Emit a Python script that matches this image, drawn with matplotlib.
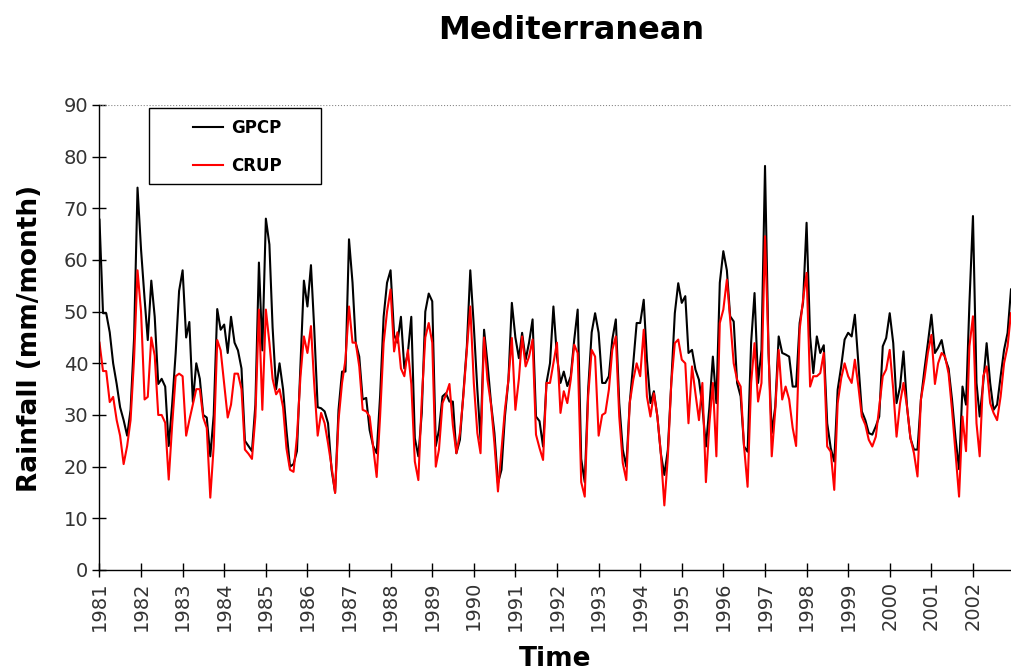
import numpy as np
import pandas as pd
import matplotlib
matplotlib.use('Agg')
import matplotlib.pyplot as plt
import matplotlib.dates as mdates
from matplotlib.patches import Rectangle

# monthly mean rainfall (mm/month), Jan 1981 - Dec 2002, one row per year
gpcp = [
    67.8, 49.7, 49.7, 46, 40, 36, 31.5, 29, 26, 31, 45, 74,
    62, 52.5, 44.5, 56, 49, 36, 37, 35.5, 24, 32, 42, 54,
    58, 45, 48, 32.5, 40, 37, 30, 29.5, 22, 30, 50.5, 46.5,
    47.5, 42, 49, 44, 42.5, 39, 25, 24, 23, 32, 59.5, 42.5,
    68, 63, 47, 35, 40, 35, 27, 20, 20.5, 23, 40, 56,
    51, 59, 47, 31.5, 31.3, 30.7, 28.4, 19.4, 15, 31, 38.4, 38.4,
    64, 55.6, 44, 41.3, 33, 33.3, 27.1, 24, 22.6, 33.6, 49, 55.6,
    58, 45.5, 44, 49, 39, 42, 49, 25.5, 22, 30.4, 50, 53.5,
    52, 24, 27.1, 33.6, 34.2, 32.6, 32.6, 22.6, 25.2, 34.2, 43.3, 58,
    47.2, 34.9, 25.2, 46.5, 40, 32.3, 26.5, 16.8, 19.4, 29.7, 36.8, 51.7,
    45, 41, 45.9, 40.7, 44, 48.5, 29.7, 28.8, 23.9, 36.2, 40, 51,
    41.3, 36.2, 38.4, 35.6, 37.5, 44.6, 50.4, 21.5, 17, 34.9, 46, 49.7,
    45.9, 36.2, 36.2, 37.5, 44.6, 48.5, 32.3, 23.3, 20, 32.3, 40, 47.8,
    47.8, 52.3, 40.7, 32.3, 34.6, 29.7, 22.6, 18.4, 23.3, 36.2, 49.7, 55.5,
    51.7, 53, 42, 42.6, 38.8, 36.8, 31.6, 23.9, 31.6, 41.3, 32.3, 55.6,
    61.7, 58, 49.1, 48.1, 36.2, 33.6, 23.9, 22.9, 44, 53.6, 36.2, 42.6,
    78.2, 42, 26.5, 31.6, 45.2, 42, 41.7, 41.3, 35.5, 35.5, 47.8, 51.7,
    67.2, 45.2, 38.1, 45.2, 42, 43.5, 28.4, 23.6, 21, 34.9, 39.4, 44.6,
    45.9, 45.2, 49.4, 40, 30.7, 29, 26.5, 26.2, 27.8, 29.7, 43.3, 44.9,
    49.7, 43.9, 32.3, 35.5, 42.3, 31.6, 25.5, 23.3, 23.3, 33, 38.8, 43.9,
    49.4, 42, 43, 44.5, 41, 39, 33, 25.5, 19.5, 35.5, 32, 51.7,
    68.5, 36.2, 29.7, 36.2, 43.9, 36.2, 31, 32, 37.5, 42.6, 45.9, 54.3,
]

crup = [
    44, 38.5, 38.5, 32.5, 33.5, 29, 26, 20.5, 24, 29, 41, 58,
    50, 33, 33.5, 45, 41.5, 30, 30, 28.5, 17.5, 28, 37.5, 38,
    37.5, 26, 29, 32, 35, 35, 29.5, 27.5, 14, 24, 44.5, 42.5,
    36, 29.5, 32, 38, 38, 35, 23.3, 22.5, 21.5, 29.7, 50.4, 31,
    50.4, 44, 37, 34, 35, 31.5, 23.5, 19.4, 19, 25.8, 37.5, 45.2,
    42, 47.2, 36.2, 26, 30.4, 28.4, 24.5, 20, 14.9, 29, 36.2, 40.7,
    51, 44, 44, 39.4, 31, 30.7, 29.7, 23.9, 18, 29.7, 43.9, 50,
    54.3, 42.3, 46, 39, 37.5, 42.6, 36, 21, 17.4, 33, 45, 47.8,
    44, 20, 23.3, 32.3, 33.9, 36, 28, 22.6, 26.5, 33.6, 42.6, 51,
    36.2, 26.5, 22.6, 45, 36.8, 32, 24.5, 15.2, 23.3, 31, 36.8, 44.9,
    31, 37, 45.2, 39.4, 41.3, 44.6, 26.2, 23.6, 21.3, 36.2, 36.2, 40,
    44, 30.4, 34.6, 32.3, 36.8, 43.6, 42, 17, 14.2, 33.6, 42.6, 41.3,
    26, 30, 30.4, 34.9, 42.6, 45.2, 29.7, 20.7, 17.4, 32.3, 36.8, 40,
    37.5, 46.5, 33.6, 29.7, 34.2, 29.7, 22.6, 12.5, 22, 36.2, 43.9, 44.6,
    40.7, 40, 28.4, 39.4, 34.2, 29, 36.2, 17, 28.4, 36.2, 22, 47.8,
    50.4, 56.2, 48.5, 40, 36.8, 35.5, 23.9, 16.1, 36.2, 43.9, 32.6, 36.2,
    64.6, 42.6, 22, 31, 42.6, 33, 35.5, 33, 27.5, 24, 46.5, 52.3,
    57.5, 35.5, 37.5, 37.5, 38.1, 42, 23.9, 22.9, 15.5, 32.3, 37.1, 40,
    37.5, 36.2, 40.7, 35.5, 29.7, 28.1, 25.2, 23.9, 25.8, 31.6, 37.5, 38.8,
    42.6, 34.9, 25.8, 32.3, 36.2, 31.6, 25.5, 22.6, 18.1, 33, 37.1, 42,
    45.5, 36, 40, 42, 41.3, 38, 31, 22.5, 14.2, 29.7, 23, 43.3,
    49.1, 28.4, 22, 37.5, 39.4, 32.3, 30.4, 29, 33.6, 40, 43.3, 49.7,
]

months = pd.date_range('1981-01-01', periods=len(gpcp), freq='MS')
yticks = list(range(0, 91, 10))

fig = plt.figure(figsize=(10.11, 6.72), dpi=100)
ax = fig.add_axes([0.0984, 0.1518, 0.9016, 0.692])

ax.plot(months, gpcp, color='black', lw=1.5, label='GPCP')
ax.plot(months, crup, color='#ff0000', lw=1.5, label='CRUP')

ax.set_ylim(0, 90)
ax.set_xlim(months[0], months[-1])
ax.set_yticks(yticks)
ax.xaxis.set_major_locator(mdates.YearLocator())
ax.xaxis.set_major_formatter(mdates.DateFormatter('%Y'))
ax.tick_params(axis='both', direction='inout', length=10, width=1,
               labelsize=14, labelcolor='#333333', color='black')
ax.tick_params(axis='x', labelrotation=90, pad=3)
ax.tick_params(axis='y', pad=3)

for side in ['top', 'right']:
    ax.spines[side].set_visible(False)
for side in ['left', 'bottom']:
    ax.spines[side].set_linewidth(1)
ax.axhline(90, color='#888888', lw=0.8, ls=':')

# legend: framed box with extra side padding like the original
ax.add_patch(Rectangle((0.0543, 0.8301), 0.1887, 0.1634, transform=ax.transAxes,
                       fill=False, edgecolor='black', lw=1, zorder=5))
ax.legend(loc='upper left', bbox_to_anchor=(0.094, 0.988), frameon=False,
          prop={'weight': 'bold', 'size': 12}, handlelength=1.75,
          handletextpad=0.5, labelspacing=1.2, borderpad=0.5, borderaxespad=0)

fig.text(0.565, 0.955, 'Mediterranean', ha='center', va='center',
         fontsize=23, fontweight='bold')
fig.text(0.03, 0.497, 'Rainfall (mm/month)', ha='center', va='center',
         rotation=90, fontsize=19, fontweight='bold')
fig.text(0.549, 0.02, 'Time', ha='center', va='center',
         fontsize=19, fontweight='bold')

fig.savefig('out.png', dpi=100)
